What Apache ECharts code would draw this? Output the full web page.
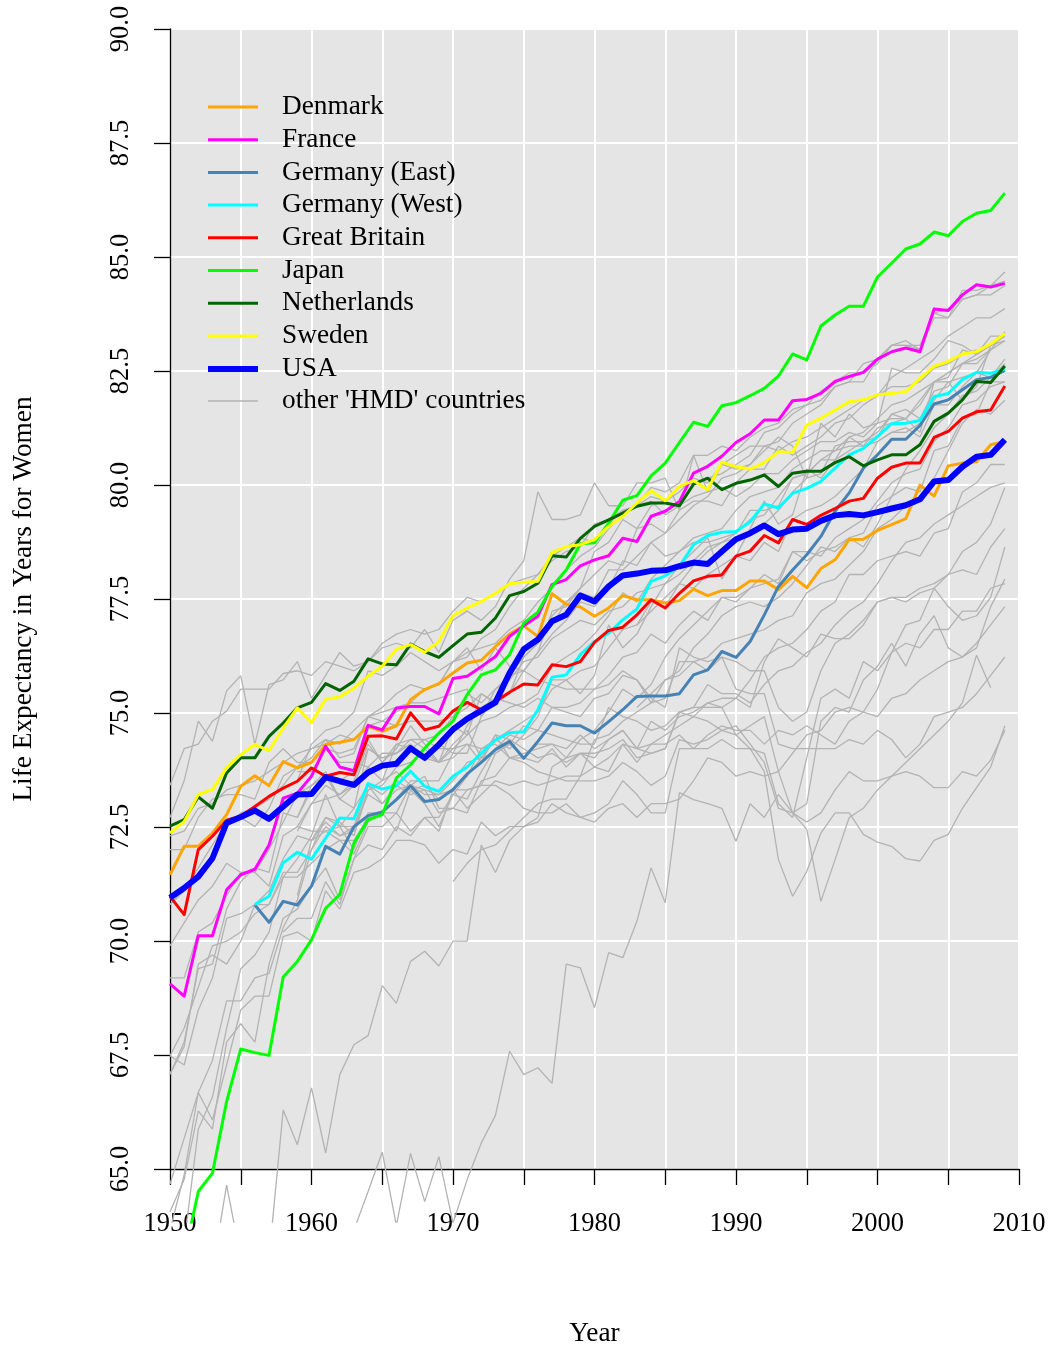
<!DOCTYPE html>
<html>
<head>
<meta charset="utf-8">
<script src="https://cdn.jsdelivr.net/npm/echarts@6/dist/echarts.min.js"></script>
<style>
html,body{margin:0;padding:0;background:#fff;}
#chart{width:1052px;height:1352px;}
</style>
</head>
<body>
<div id="chart"></div>
<script>
// ---------------- DATA ----------------
const years = [1950,1951,1952,1953,1954,1955,1956,1957,1958,1959,
  1960,1961,1962,1963,1964,1965,1966,1967,1968,1969,
  1970,1971,1972,1973,1974,1975,1976,1977,1978,1979,
  1980,1981,1982,1983,1984,1985,1986,1987,1988,1989,
  1990,1991,1992,1993,1994,1995,1996,1997,1998,1999,
  2000,2001,2002,2003,2004,2005,2006,2007,2008,2009];

const xTicks = [1950,1960,1970,1980,1990,2000,2010];
const yTicks = [65.0,67.5,70.0,72.5,75.0,77.5,80.0,82.5,85.0,87.5,90.0];

const denmark = [71.55,72.17,72.17,72.46,72.86,73.48,73.71,73.49,74.02,73.88,
  74.0,74.39,74.44,74.5,74.79,74.68,74.8,75.37,75.59,75.72,
  75.95,76.17,76.23,76.53,76.8,76.98,76.75,77.68,77.45,77.39,
  77.19,77.37,77.64,77.55,77.55,77.48,77.53,77.78,77.64,77.75,
  77.75,77.96,77.96,77.77,78.06,77.81,78.23,78.42,78.86,78.87,
  79.06,79.19,79.32,80.05,79.81,80.47,80.53,80.56,80.93,81.0];
const france = [69.17,68.9,70.22,70.22,71.22,71.55,71.67,72.2,73.22,73.33,
  73.7,74.35,73.9,73.82,74.81,74.71,75.19,75.22,75.22,75.06,
  75.83,75.88,76.09,76.31,76.75,76.98,77.19,77.88,77.99,78.29,
  78.42,78.51,78.89,78.82,79.37,79.48,79.69,80.31,80.46,80.68,
  80.98,81.17,81.47,81.47,81.89,81.92,82.05,82.31,82.42,82.51,
  82.8,82.96,83.04,82.96,83.89,83.86,84.2,84.42,84.37,84.45];
const germanyEast = [null,null,null,null,null,null,70.89,70.51,70.97,70.89,
  71.3,72.17,72.0,72.6,72.84,72.92,73.19,73.49,73.15,73.19,
  73.41,73.75,74.0,74.28,74.46,74.09,74.46,74.86,74.8,74.8,
  74.64,74.89,75.15,75.44,75.45,75.45,75.5,75.91,76.02,76.42,
  76.29,76.64,77.22,77.84,78.2,78.53,78.93,79.48,79.88,80.42,
  80.71,81.05,81.05,81.35,81.82,81.91,82.13,82.35,82.4,82.55];
const germanyWest = [null,null,null,null,null,null,70.9,71.08,71.81,72.04,
  71.89,72.35,72.79,72.77,73.54,73.42,73.49,73.81,73.48,73.37,
  73.7,73.9,74.2,74.49,74.65,74.67,75.15,75.86,75.91,76.35,
  76.64,76.82,77.11,77.35,77.95,78.07,78.28,78.75,78.95,79.02,
  79.04,79.25,79.64,79.55,79.87,79.98,80.13,80.42,80.71,80.85,
  81.11,81.39,81.4,81.46,81.98,82.05,82.35,82.51,82.49,82.58];
const greatBritain = [71.08,70.68,72.1,72.39,72.74,72.83,73.04,73.26,73.44,73.59,
  73.88,73.7,73.78,73.73,74.57,74.58,74.51,75.08,74.71,74.79,
  75.12,75.31,75.15,75.33,75.53,75.71,75.69,76.13,76.09,76.2,
  76.62,76.88,76.95,77.22,77.55,77.37,77.69,77.96,78.06,78.09,
  78.5,78.61,78.95,78.79,79.3,79.19,79.39,79.54,79.7,79.76,
  80.2,80.44,80.53,80.53,81.09,81.22,81.51,81.65,81.69,82.21];
const japan = [61.5,63.2,64.64,65.04,66.6,67.75,67.67,67.61,69.32,69.66,
  70.13,70.82,71.12,72.24,72.75,72.86,73.66,73.95,74.31,74.64,
  74.9,75.48,75.91,76.02,76.35,77.04,77.28,77.84,78.2,78.77,
  78.79,79.22,79.72,79.82,80.25,80.53,80.98,81.42,81.33,81.78,
  81.85,82.0,82.16,82.43,82.91,82.78,83.52,83.76,83.95,83.95,
  84.59,84.89,85.2,85.31,85.57,85.49,85.8,85.98,86.04,86.42];
const netherlands = [72.61,72.75,73.25,73.0,73.77,74.1,74.1,74.57,74.86,75.19,
  75.31,75.72,75.57,75.77,76.26,76.15,76.13,76.58,76.42,76.29,
  76.55,76.8,76.84,77.15,77.64,77.73,77.91,78.51,78.48,78.89,
  79.15,79.29,79.44,79.59,79.66,79.66,79.6,80.07,80.2,79.95,
  80.09,80.16,80.27,80.02,80.31,80.35,80.35,80.54,80.67,80.47,
  80.6,80.71,80.71,80.93,81.44,81.62,81.91,82.31,82.29,82.65];
const sweden = [72.46,72.71,73.3,73.41,73.88,74.17,74.39,74.26,74.75,75.19,
  74.87,75.38,75.43,75.62,75.88,76.1,76.47,76.57,76.4,76.64,
  77.2,77.37,77.51,77.69,77.9,77.93,77.95,78.58,78.71,78.75,
  78.86,79.15,79.37,79.66,79.93,79.71,80.02,80.15,79.95,80.55,
  80.45,80.4,80.54,80.78,80.76,81.36,81.51,81.69,81.87,81.91,
  82.02,82.05,82.09,82.38,82.64,82.75,82.91,82.96,83.13,83.35];
const usa = [71.05,71.26,71.51,71.91,72.68,72.81,72.95,72.77,73.04,73.3,
  73.31,73.68,73.59,73.51,73.78,73.93,73.97,74.31,74.1,74.39,
  74.72,74.95,75.13,75.31,75.95,76.47,76.68,77.08,77.22,77.64,
  77.51,77.84,78.08,78.12,78.18,78.19,78.28,78.36,78.33,78.6,
  78.87,79.0,79.17,78.98,79.08,79.1,79.27,79.39,79.42,79.39,
  79.46,79.54,79.61,79.74,80.13,80.16,80.45,80.67,80.71,81.04];

// other 'HMD' countries (grey)
const N9 = [null,null,null,null,null,null,null,null,null];
const N10 = N9.concat([null]);
const grayAustralia = [72.1,72.1,72.8,73.2,73.3,73.3,73.2,74.0,74.3,74.0,
  74.0,74.3,74.0,74.0,73.9,74.2,74.2,74.4,74.1,74.4,
  74.2,74.8,75.2,75.4,75.5,76.3,76.6,77.2,77.5,77.8,
  78.1,78.4,78.3,79.1,79.2,79.0,79.5,79.7,79.7,79.6,
  80.1,80.4,80.4,80.9,80.7,80.9,81.1,81.4,81.5,81.8,
  82.0,82.4,82.6,82.8,83.0,83.3,83.5,83.7,83.7,83.9];
const grayAustria = [67.6,68.2,69.1,70.0,70.1,70.3,70.7,70.9,71.6,71.6,
  72.1,72.8,72.6,72.6,73.3,73.1,73.4,73.5,73.4,73.3,
  73.4,73.7,74.1,74.5,74.7,74.9,75.1,75.6,75.8,76.0,
  76.1,76.5,76.9,77.0,77.5,77.4,77.9,78.3,78.6,78.8,
  78.9,79.0,79.2,79.5,79.9,80.2,80.3,80.9,81.0,81.0,
  81.2,81.6,81.7,81.5,82.1,82.2,82.7,82.9,83.1,83.2];
const grayBelgium = [70.0,70.5,71.0,71.3,71.8,71.6,71.6,72.1,72.7,73.3,
  73.5,73.8,73.2,73.0,74.3,74.1,74.2,74.4,74.1,74.0,
  74.3,74.6,74.9,75.0,75.2,75.3,75.5,76.1,76.3,76.5,
  76.8,77.2,77.7,77.5,78.0,78.3,78.6,78.9,79.0,79.1,
  79.5,79.8,79.9,80.0,80.4,80.6,80.8,80.8,80.9,80.9,
  81.0,81.2,81.3,81.1,81.8,81.8,82.2,82.5,82.4,82.7];
const grayBulgaria = [64.2,64.9,66.4,66.0,67.9,68.3,67.9,69.6,70.6,70.8,
  71.3,71.7,71.0,71.9,72.6,72.6,72.9,72.5,72.8,72.5,
  73.4,73.0,73.3,73.6,73.5,73.6,73.5,73.6,73.7,73.7,
  73.9,73.8,74.4,74.0,74.4,74.4,74.6,74.3,74.6,74.8,
  74.7,74.7,74.4,74.7,74.6,74.8,74.6,74.4,74.9,75.1,
  75.0,75.4,75.5,75.8,76.0,76.2,76.3,76.6,77.0,77.4];
const grayCanada = [70.9,71.2,71.6,71.9,72.6,72.9,73.0,73.2,73.5,73.9,
  74.3,74.5,74.4,74.7,75.0,75.1,75.2,75.3,75.6,75.7,
  76.2,76.4,76.5,76.6,76.9,77.1,77.5,77.8,78.2,78.5,
  78.7,79.1,79.4,79.6,79.8,79.7,79.9,80.2,80.1,80.5,
  80.7,80.9,80.9,80.8,81.0,81.1,81.3,81.5,81.7,81.9,
  82.0,82.2,82.2,82.3,82.6,82.7,82.9,83.0,null,null];
const grayCzech = [67.2,67.9,69.5,69.6,70.8,71.4,71.7,71.6,72.9,72.8,
  73.4,73.7,73.2,73.5,73.9,73.6,73.8,73.5,73.7,73.0,
  73.0,72.9,73.6,73.7,74.1,74.2,74.3,74.4,74.1,74.2,
  73.9,74.1,74.4,74.3,74.4,74.6,74.8,75.0,75.3,75.4,
  75.4,75.8,76.3,76.5,76.6,76.9,77.3,77.5,78.1,78.1,
  78.4,78.5,78.6,78.5,79.0,79.1,79.9,80.1,80.5,80.5];
const grayFinland = [69.3,69.3,70.3,70.5,71.1,71.6,71.6,71.3,72.4,72.6,
  72.5,72.5,72.6,72.1,72.9,72.9,73.2,73.6,73.6,73.6,
  74.2,74.2,75.0,75.6,75.9,76.3,76.6,77.0,77.5,77.7,
  77.6,78.2,78.2,78.5,78.8,78.5,78.6,78.8,78.8,78.9,
  79.0,79.5,79.5,79.6,80.2,80.3,80.6,80.6,80.8,81.0,
  81.1,81.6,81.5,81.8,82.3,82.4,83.0,82.9,83.1,83.3];
const grayHungary = [64.8,65.8,66.8,66.2,67.4,68.6,68.9,68.9,70.2,70.3,
  70.1,71.2,70.8,71.6,71.7,71.9,72.3,72.3,72.2,71.8,
  72.1,72.0,72.7,72.4,72.6,72.6,72.7,73.1,72.9,72.8,
  72.7,73.0,73.1,72.8,73.1,73.1,73.2,73.6,74.1,74.0,
  73.7,73.8,73.7,73.8,74.2,74.6,74.7,75.1,75.2,75.1,
  75.6,76.4,76.6,76.5,76.9,76.9,77.3,77.3,77.8,77.9];
const grayIceland = [72.8,73.6,74.9,74.46,75.56,75.89,74.4,75.7,75.8,76.2,
  75.4,75.9,76.4,76.1,76.2,76.5,76.6,76.5,76.9,76.4,
  77.1,77.3,77.1,77.4,78.0,78.4,79.9,79.3,79.3,79.4,
  80.1,79.6,79.6,80.1,80.1,80.2,79.5,80.7,79.9,80.5,
  80.4,80.5,80.8,81.1,80.9,80.2,81.4,81.1,81.6,81.3,
  81.4,82.6,82.5,82.5,82.8,83.2,83.1,82.9,83.3,83.3];
const grayIreland = [67.2,67.8,69.6,69.8,69.6,70.1,70.9,70.9,71.5,71.5,
  71.8,72.1,72.3,72.3,72.8,72.9,72.9,73.5,73.3,73.3,
  73.6,74.0,74.1,74.2,74.4,74.8,74.7,75.2,75.2,75.3,
  75.6,75.9,76.3,76.4,76.8,76.6,77.0,77.3,77.1,77.6,
  77.6,77.8,78.1,77.9,78.6,78.4,78.6,78.7,78.9,78.7,
  79.2,79.8,80.4,80.8,81.3,81.6,82.0,82.1,82.4,82.8];
const grayIsrael = N10.concat(N10, N10, [null,null,null,77.0,77.3,77.6,77.9,77.8,78.1,78.3,
  78.5,78.4,78.8,78.6,79.3,79.5,79.6,79.8,80.1,80.4,
  81.0,81.2,81.2,81.4,81.9,82.3,82.4,82.5,83.0,83.4]);
const grayItaly = [67.6,67.4,68.6,69.3,70.6,70.7,70.9,71.2,71.9,72.4,
  72.3,72.8,72.7,72.4,73.4,73.6,74.4,74.5,74.5,74.6,
  75.0,75.2,75.5,75.3,75.9,76.0,76.4,76.8,77.1,77.5,
  77.4,77.8,78.4,78.3,78.8,79.0,79.3,79.6,79.8,80.2,
  80.3,80.5,80.9,81.0,81.4,81.6,81.8,82.2,82.3,82.7,
  82.8,83.1,83.2,83.0,83.8,83.7,84.1,84.2,84.2,84.4];
const grayLatvia = N9.concat([72.8,
  73.5,73.7,73.6,73.8,74.5,74.0,74.3,74.8,74.4,74.0,
  74.4,74.7,74.1,74.6,74.1,74.1,74.0,74.3,73.9,74.2,
  74.2,74.3,74.5,74.1,74.2,74.3,75.1,75.2,75.2,75.2,
  74.6,74.8,75.0,73.8,72.9,73.1,74.9,75.2,75.1,75.8,
  76.1,76.6,76.1,76.8,77.2,76.5,76.3,76.5,77.4,78.0]);
const grayLithuania = N9.concat([73.8,
  73.8,74.3,74.2,74.3,75.0,74.9,75.1,75.3,75.3,75.4,
  75.5,75.6,75.0,75.4,75.3,75.2,75.4,75.2,75.1,75.0,
  75.4,75.5,75.9,75.8,75.4,75.2,76.5,76.3,76.2,76.3,
  76.2,76.0,76.0,75.2,74.9,75.1,76.0,76.6,76.8,77.1,
  77.5,77.6,77.5,77.7,77.8,77.4,77.1,77.2,77.6,78.7]);
const grayLuxembourg = N10.concat([72.3,72.5,72.3,72.0,72.7,72.9,72.5,73.4,73.1,72.6,
  73.3,73.7,74.3,74.5,74.3,74.6,75.0,75.8,75.8,75.5,
  75.9,77.0,76.5,76.8,77.4,77.9,78.3,78.6,78.9,78.0,
  78.5,79.1,79.7,79.2,79.4,80.4,80.2,80.6,81.1,80.9,
  81.3,81.4,81.5,81.2,82.3,82.3,81.9,82.2,83.1,83.3]);
const grayNewZealandNonMaori = [72.4,72.5,73.0,73.1,73.4,73.5,73.6,73.8,74.0,74.2,
  74.3,74.4,74.6,74.5,74.8,74.9,74.8,74.9,74.9,74.9,
  75.0,75.5,75.3,75.6,75.8,76.2,76.3,76.7,76.9,77.1,
  77.0,77.3,77.4,77.7,77.8,77.9,78.1,78.4,78.7,78.8,
  79.0,79.3,79.4,79.8,80.2,80.3,80.6,80.8,81.1,81.2,
  81.5,81.8,81.9,82.1,82.3,82.5,82.7,82.8,83.0,null];
const grayNewZealandMaori = [56.0,57.5,58.5,59.0,60.0,60.5,61.5,62.0,62.5,63.0,
  63.3,63.6,63.5,63.8,64.64,65.5,63.9,65.47,64.42,65.4,
  63.95,64.9,65.7,66.3,67.7,67.19,67.34,67.0,69.6,69.52,
  68.65,69.85,69.74,70.54,71.7,70.94,73.34,73.19,73.1,73.0,
  72.28,73.1,72.8,73.3,72.9,72.54,70.97,71.88,72.8,73.0,
  73.4,73.7,74.0,74.3,74.6,74.9,75.3,76.34,75.63,null];
const grayNorway = [73.5,74.3,74.4,74.9,75.12,75.6,75.6,75.6,75.94,76.0,
  75.9,76.2,76.1,76.0,76.2,76.6,76.8,76.9,76.8,76.9,
  77.3,77.6,77.5,77.7,77.9,78.0,78.1,78.4,78.6,78.7,
  79.2,79.3,79.5,79.6,79.7,79.4,79.6,79.8,79.9,80.0,
  79.8,80.0,80.3,80.3,80.6,80.8,81.0,81.0,81.2,81.1,
  81.4,81.5,81.5,81.9,82.3,82.5,82.7,82.7,83.0,83.2];
const grayPoland = [null,null,null,null,null,null,null,null,70.3,70.6,
  70.6,71.4,70.9,71.9,72.2,72.1,72.6,72.4,72.8,72.8,
  73.3,73.2,73.8,74.3,74.6,74.5,74.7,74.6,74.5,74.4,
  74.4,75.2,75.0,74.9,74.7,74.8,75.1,75.2,75.7,75.5,
  75.5,75.3,75.7,76.0,76.1,76.4,76.6,77.0,77.3,77.5,
  77.9,78.4,78.8,78.9,79.2,79.4,79.6,79.8,80.0,80.1];
const grayPortugal = [61.0,60.5,63.0,62.9,64.78,63.2,63.0,63.2,66.42,65.66,
  66.9,65.48,67.19,67.84,68.04,69.13,68.75,69.66,69.88,69.56,
  70.1,70.1,72.2,71.6,72.3,72.6,72.8,73.9,74.1,74.5,
  74.7,75.1,75.6,75.4,75.7,76.3,76.7,77.0,77.3,77.6,
  77.5,77.8,77.9,78.0,78.6,78.6,78.5,78.9,79.1,79.3,
  79.7,80.1,80.3,80.4,81.0,81.3,81.8,81.9,82.2,82.3];
const grayRussia = N9.concat([71.1,
  72.3,72.7,72.4,72.6,73.5,73.3,73.6,73.4,73.5,73.2,
  73.4,73.4,73.5,73.5,73.3,73.0,72.9,72.9,73.1,72.8,
  72.9,73.1,73.6,73.3,72.9,72.9,74.3,74.3,74.3,74.5,
  74.3,74.3,73.8,71.88,71.08,71.62,72.46,72.9,72.9,72.43,
  72.26,72.17,71.9,71.85,72.3,72.43,73.0,73.45,73.9,74.8]);
const graySlovakia = [62.2,63.5,66.0,66.7,68.2,69.5,69.8,70.3,71.5,71.9,
  72.4,73.3,72.6,73.0,73.5,73.1,73.5,73.3,73.4,72.9,
  73.0,73.4,73.5,74.2,74.4,74.1,74.4,74.4,74.3,74.6,
  74.3,74.5,74.7,74.3,74.9,74.7,75.0,75.1,75.3,75.2,
  75.4,75.2,76.2,76.7,76.5,76.3,76.8,76.7,76.7,77.0,
  77.5,77.6,77.6,77.8,77.9,78.1,78.2,78.1,78.7,79.1];
const graySlovenia = N10.concat(N10, N10, [null,null,null,75.2,75.5,75.8,76.0,76.5,76.8,77.2,
  77.4,77.5,77.4,77.6,77.9,78.3,78.7,78.6,78.9,79.0,
  79.6,79.8,80.0,79.9,80.8,80.9,81.5,81.6,82.3,82.3]);
const graySpain = [63.8,65.0,66.8,67.5,68.8,68.8,69.3,69.4,70.4,71.0,
  72.1,72.6,72.4,72.5,73.4,73.5,73.9,74.0,74.2,74.0,
  74.8,74.6,75.5,75.3,75.5,76.0,76.4,77.3,77.4,77.8,
  78.6,78.8,79.3,79.1,79.6,79.7,80.0,80.1,80.2,80.3,
  80.5,80.7,81.2,81.3,81.6,81.8,81.9,82.2,82.3,82.3,
  82.8,83.1,83.1,83.0,83.7,83.7,84.3,84.3,84.4,84.7];
const graySwitzerland = [70.9,71.2,71.7,72.2,72.7,72.8,72.6,73.0,73.7,73.9,
  74.1,74.5,74.1,74.2,75.0,75.2,75.5,75.7,75.6,75.7,
  76.2,76.3,76.7,76.9,77.4,77.8,78.1,78.5,78.7,78.9,
  78.8,79.2,79.5,79.6,80.0,79.9,80.1,80.7,80.7,80.9,
  80.8,81.1,81.3,81.4,81.7,81.8,82.1,82.3,82.5,82.5,
  82.7,83.1,83.1,83.1,83.8,83.9,84.1,84.2,84.4,84.5];
const grayTaiwan = N10.concat(N10, [71.4,71.8,72.1,72.2,72.5,72.8,73.1,73.2,73.2,73.7,
  74.5,74.6,74.9,75.1,75.3,75.8,75.9,76.2,76.3,76.6,
  76.7,76.8,76.9,77.1,77.2,77.7,77.9,78.0,78.3,78.6,
  79.1,79.3,79.6,79.7,80.2,80.8,81.4,81.7,81.6,81.9]);
const grayUkraine = N9.concat([72.6,
  73.1,73.5,73.3,73.6,74.4,74.0,74.4,74.3,74.5,74.3,
  74.3,74.4,74.3,74.4,74.1,74.0,73.8,73.7,73.6,73.6,
  73.6,73.7,74.0,73.8,73.5,73.7,74.5,74.4,74.5,74.7,
  74.8,74.4,74.0,73.0,72.9,72.7,72.9,73.4,73.8,73.6,
  73.6,73.7,73.8,73.7,73.45,73.45,73.8,73.7,74.05,74.7]);
const grayBelarus = N9.concat([73.6,
  74.4,74.7,74.8,75.1,76.0,75.9,76.1,76.4,76.2,76.0,
  76.2,76.5,76.0,76.5,76.1,76.0,75.8,75.7,75.6,75.6,
  75.6,75.7,76.0,75.8,75.3,75.4,76.2,76.2,76.0,76.3,
  75.6,75.5,75.5,74.4,74.3,74.3,74.3,74.3,74.5,74.4,
  74.7,74.5,74.1,74.4,75.0,75.1,75.2,75.5,75.9,76.3]);
const grayEstonia = N9.concat([72.5,
  73.1,73.2,73.3,73.5,74.3,74.1,74.2,74.5,74.3,74.0,
  74.1,74.4,74.0,74.6,74.5,74.3,74.1,74.2,74.0,74.2,
  74.1,74.5,74.7,74.3,74.2,74.3,75.1,75.0,74.9,74.7,
  74.6,74.3,74.2,73.1,72.8,74.1,75.4,75.6,75.4,76.2,
  76.0,76.4,77.0,77.1,77.8,78.1,78.6,78.8,79.2,80.0]);

const grayList = [grayAustralia, grayAustria, grayBelgium, grayBulgaria, grayCanada,
  grayCzech, grayFinland, grayHungary, grayIceland, grayIreland, grayIsrael, grayItaly,
  grayLatvia, grayLithuania, grayLuxembourg, grayNewZealandNonMaori, grayNewZealandMaori,
  grayNorway, grayPoland, grayPortugal, grayRussia, graySlovakia, graySlovenia, graySpain,
  graySwitzerland, grayTaiwan, grayUkraine, grayBelarus, grayEstonia];

const named = [
  {name:'Denmark', values:denmark, color:'#FFA500', width:3},
  {name:'France', values:france, color:'#FF00FF', width:3},
  {name:'Germany (East)', values:germanyEast, color:'#4682B4', width:3},
  {name:'Germany (West)', values:germanyWest, color:'#00FFFF', width:3},
  {name:'Great Britain', values:greatBritain, color:'#FF0000', width:3},
  {name:'Japan', values:japan, color:'#00FF00', width:3},
  {name:'Netherlands', values:netherlands, color:'#006400', width:3},
  {name:'Sweden', values:sweden, color:'#FFFF00', width:3},
  {name:'USA', values:usa, color:'#0000FF', width:6}
];
const otherName = "other 'HMD' countries";
const grayColor = '#B3B3B3';

// ---------------- CHART ----------------
function toPairs(vals){
  const out = [];
  for (let i=0;i<years.length;i++){ if (vals[i]!=null) out.push([years[i], vals[i]]); }
  return out;
}
const FONT = '"Liberation Serif", "Times New Roman", serif';
const pxPerUnit = 1146/25;
const dataMin = 65 - 47/pxPerUnit;

const series = [];
grayList.forEach(g => series.push({
  name: otherName, type:'line', xAxisIndex:1, yAxisIndex:1,
  data: toPairs(g), showSymbol:false, symbol:'none', silent:true,
  color: grayColor, itemStyle:{color:grayColor},
  lineStyle:{color:grayColor, width:1.3}, animation:false, clip:true
}));
named.forEach(s => series.push({
  name: s.name, type:'line', xAxisIndex:1, yAxisIndex:1,
  data: toPairs(s.values), showSymbol:false, symbol:'none', silent:true,
  color: s.color, itemStyle:{color:s.color},
  lineStyle:{color:s.color, width:s.width, join:'round'}, animation:false, clip:true, z:3
}));

const legendText = {fontSize:27.3, fontFamily:FONT, color:'#000', lineHeight:27, padding:[0,0,0,19]};
const legendBase = {orient:'vertical', left:208, itemWidth:50, icon:'rect', itemGap:5.7,
  padding:0, selectedMode:false, textStyle:legendText, itemStyle:{borderWidth:0}};

const option = {
  backgroundColor:'#ffffff',
  animation:false,
  grid:[
    {left:170, right:33, top:29, bottom:177, show:true, backgroundColor:'#E5E5E5', borderWidth:0},
    {left:170, right:33, top:29, bottom:130}
  ],
  xAxis:[
    {type:'value', gridIndex:0, min:1950, max:2010, interval:5,
     name:'Year', nameLocation:'middle', nameGap:151,
     nameTextStyle:{fontSize:27.3, fontFamily:FONT, color:'#000'},
     axisLine:{show:true, lineStyle:{color:'#000', width:1.3}},
     axisTick:{show:true, length:16, lineStyle:{color:'#000', width:1.3}},
     axisLabel:{fontSize:26.5, fontFamily:FONT, color:'#000', margin:42, showMinLabel:true, showMaxLabel:true,
       formatter: v => xTicks.indexOf(v) >= 0 ? String(v) : ''},
     splitLine:{show:true, lineStyle:{color:'#FFFFFF', width:2}}},
    {type:'value', gridIndex:1, min:1950, max:2010, show:false}
  ],
  yAxis:[
    {type:'value', gridIndex:0, min:65, max:90, interval:2.5,
     name:'Life Expectancy in Years for Women', nameLocation:'middle', nameGap:133,
     nameTextStyle:{fontSize:27.3, fontFamily:FONT, color:'#000'},
     axisLine:{show:true, lineStyle:{color:'#000', width:1.3}},
     axisTick:{show:true, length:16, lineStyle:{color:'#000', width:1.3}},
     axisLabel:{fontSize:26.5, fontFamily:FONT, color:'#000', rotate:90, margin:35, showMinLabel:true, showMaxLabel:true,
       formatter: v => { const t = yTicks.find(k => Math.abs(k - v) < 1e-6); return t != null ? t.toFixed(1) : ''; }},
     splitLine:{show:true, lineStyle:{color:'#FFFFFF', width:2}}},
    {type:'value', gridIndex:1, min:dataMin, max:90, show:false}
  ],
  legend:[
    Object.assign({}, legendBase, {top:93.5, itemHeight:3,
      data:['Denmark','France','Germany (East)','Germany (West)','Great Britain','Japan','Netherlands','Sweden']}),
    Object.assign({}, legendBase, {top:355.5, itemHeight:6, data:['USA']}),
    Object.assign({}, legendBase, {top:387.5, itemHeight:1.5, data:[otherName]})
  ],
  series: series
};

const chart = echarts.init(document.getElementById('chart'), null, {renderer:'canvas'});
chart.setOption(option);
</script>
</body>
</html>
